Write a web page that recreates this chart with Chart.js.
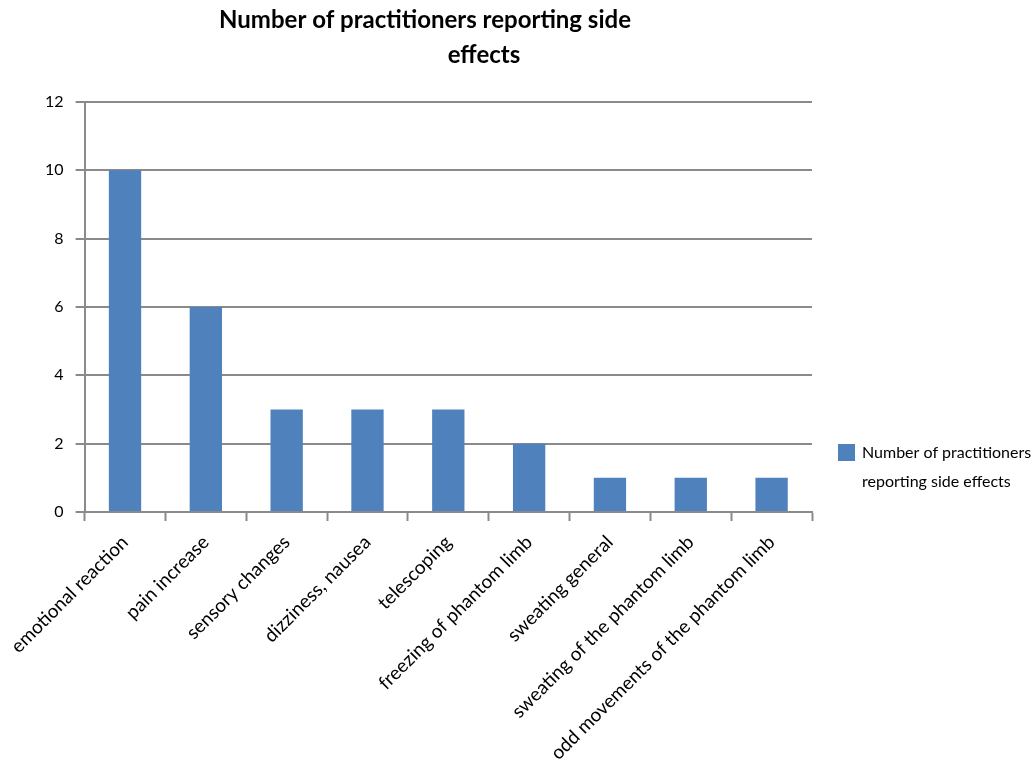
<!DOCTYPE html>
<html>
<head>
<meta charset="utf-8">
<script src="https://cdn.jsdelivr.net/npm/chart.js@4"></script>
<style>
  html, body { margin: 0; padding: 0; background: #fff; }
  #wrap { width: 1036px; height: 769px; }
</style>
</head>
<body>
<div id="wrap"><canvas id="chart" width="1036" height="769"></canvas></div>
<script>
// chart values
const categories = [
    'emotional reaction', 'pain increase', 'sensory changes', 'dizziness, nausea',
    'telescoping', 'freezing of phantom limb', 'sweating general',
    'sweating of the phantom limb', 'odd movements of the phantom limb'
];
const seriesValues = [10, 6, 3, 3, 3, 2, 1, 1, 1];
const seriesName = 'Number of practitioners reporting side effects';
const titleLines = ['Number of practitioners reporting side', 'effects'];
const legendLines = ['Number of practitioners', 'reporting side effects'];
const yTicks = [0, 2, 4, 6, 8, 10, 12];

const FONT = 'Lato, "Open Sans", sans-serif';
const BAR = '#4F81BD';
const GRID = '#8a8a8a';

// title + wrapped legend drawn by hand (Chart.js can't center lines separately)
const decorations = {
    id: 'decorations',
    afterDraw(chart) {
        const ctx = chart.ctx;
        const area = chart.chartArea;
        ctx.save();
        ctx.fillStyle = '#000';
        ctx.font = 'bold 24px ' + FONT;
        ctx.textAlign = 'center';
        ctx.textBaseline = 'middle';
        ctx.fillText(titleLines[0], 425, 20);
        ctx.fillText(titleLines[1], 484, 55);

        // legend
        const lx = area.right + 26, ly = area.bottom - 68;
        ctx.fillStyle = BAR;
        ctx.fillRect(lx, ly, 17, 17);
        ctx.fillStyle = '#000';
        ctx.font = '16px ' + FONT;
        ctx.textAlign = 'left';
        ctx.fillText(legendLines[0], lx + 24, ly + 9);
        ctx.fillText(legendLines[1], lx + 24, ly + 38);
        ctx.restore();
    }
};

new Chart(document.getElementById('chart'), {
    type: 'bar',
    data: {
        labels: categories,
        datasets: [{
            label: seriesName,
            data: seriesValues,
            backgroundColor: BAR,
            categoryPercentage: 1,
            barPercentage: 0.4
        }]
    },
    plugins: [decorations],
    options: {
        responsive: false,
        animation: false,
        layout: { padding: { top: 102, right: 224, left: 0, bottom: 0 } },
        plugins: {
            legend: { display: false },
            tooltip: { enabled: false }
        },
        scales: {
            x: {
                grid: {
                    color: 'transparent',
                    tickColor: GRID,
                    tickWidth: 2,
                    tickLength: 9,
                    offset: true
                },
                border: { color: GRID, width: 2 },
                ticks: {
                    color: '#000',
                    font: { family: FONT, size: 19 },
                    minRotation: 45,
                    maxRotation: 45,
                    autoSkip: false,
                    padding: 10
                },
                afterFit: (scale) => { scale.height = 769 - 512; }
            },
            y: {
                min: 0,
                max: 12,
                afterBuildTicks: (scale) => { scale.ticks = yTicks.map(v => ({ value: v })); },
                grid: { color: GRID, lineWidth: 2, tickLength: 9 },
                border: { color: GRID, width: 2 },
                ticks: {
                    color: '#000',
                    font: { family: FONT, size: 16 },
                    padding: 12
                },
                afterFit: (scale) => { scale.width = 81; }
            }
        }
    }
});
</script>
</body>
</html>
